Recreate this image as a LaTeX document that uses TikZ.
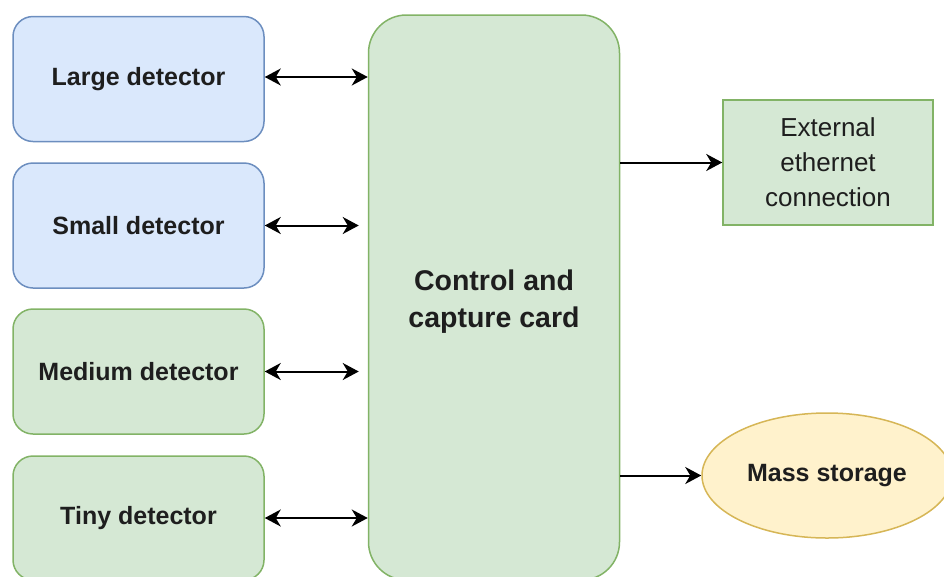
\documentclass[tikz,border=0pt]{standalone}
\usepackage{fontspec}
\setmainfont{Liberation Sans}
\usetikzlibrary{arrows.meta,shapes.geometric}

\definecolor{bluefill}{HTML}{DAE8FC}
\definecolor{bluedraw}{HTML}{6C8EBF}
\definecolor{greenfill}{HTML}{D5E8D4}
\definecolor{greendraw}{HTML}{82B366}
\definecolor{yellowfill}{HTML}{FFF2CC}
\definecolor{yellowdraw}{HTML}{D6B656}
\definecolor{ink}{HTML}{1E1E1E}

\tikzset{
  box/.style={rectangle, line width=1.5pt, text=ink, align=center, inner sep=0pt},
  detector/.style={box, rounded corners=20pt, minimum width=251pt, minimum height=125pt,
    font=\fontsize{25}{30}\selectfont\bfseries},
  bluebox/.style={detector, fill=bluefill, draw=bluedraw},
  greenbox/.style={detector, fill=greenfill, draw=greendraw},
  link/.style={line width=2pt, draw=black},
  both/.style={link, {Stealth[length=16pt,width=17pt,inset=5pt]}-{Stealth[length=16pt,width=17pt,inset=5pt]}},
  onward/.style={link, -{Stealth[length=16pt,width=17pt,inset=5pt]}},
}

\begin{document}
\begin{tikzpicture}[x=1pt,y=-1pt]
  \useasboundingbox (0,0) rectangle (944,576);
  \clip (0,0) rectangle (944,576);

  % detectors on the left
  \node[bluebox]  (large)  at (138.5,79)    {Large detector};
  \node[bluebox]  (small)  at (138.5,225.5) {Small detector};
  \node[greenbox] (medium) at (138.5,371.5) {Medium detector};
  \node[greenbox, minimum height=124pt] (tiny) at (138.5,518) {Tiny detector};

  % central card
  \node[box, rounded corners=38pt, fill=greenfill, draw=greendraw,
        minimum width=251pt, minimum height=565pt] (ctrl) at (494,297.5) {};
  \node[text=ink, align=center, inner sep=0pt,
        font=\fontsize{28.5}{37}\selectfont\bfseries] (ctrltext) at (494,302)
        {Control and\\capture card};

  % outputs on the right
  \node[box, fill=greenfill, draw=greendraw, minimum width=210pt, minimum height=125pt,
        font=\fontsize{26}{35}\selectfont] (ext) at (828,162.5)
        {External\\ethernet\\connection};
  \node[box, ellipse, fill=yellowfill, draw=yellowdraw, minimum width=250pt, minimum height=125pt,
        font=\fontsize{25}{30}\selectfont\bfseries] (store) at (827,475.5) {Mass storage};

  % links
  \draw[both] (large.east) ++(0,-2) coordinate (la) -- (la -| ctrl.west);
  \draw[both, shorten >=9pt] (small.east) -- (small.east -| ctrl.west);
  \draw[both, shorten >=9pt] (medium.east) -- (medium.east -| ctrl.west);
  \draw[both] (tiny.east) -- (tiny.east -| ctrl.west);
  \draw[onward] (ext.west -| ctrl.east) -- (ext.west);
  \draw[onward] (store.west -| ctrl.east) -- (store.west);
\end{tikzpicture}
\end{document}
